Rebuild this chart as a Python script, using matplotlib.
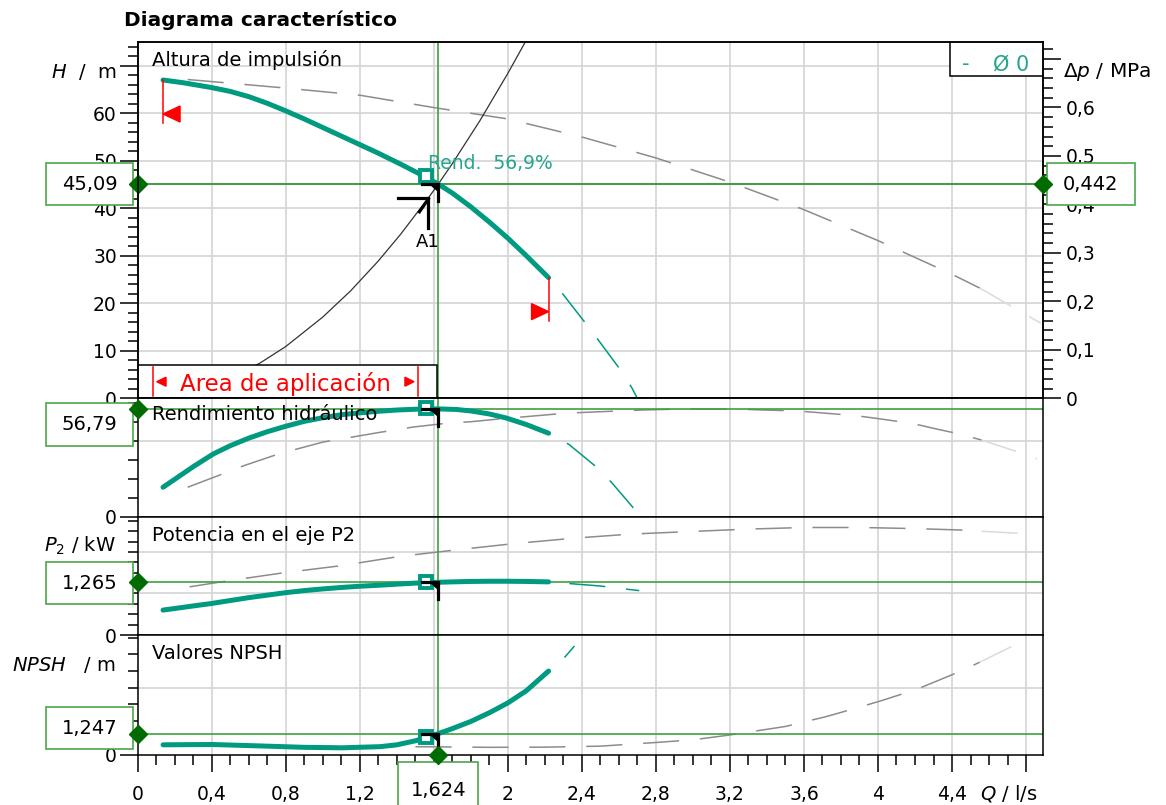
import numpy as np
import matplotlib
matplotlib.use("Agg")
import matplotlib.pyplot as plt
from matplotlib.patches import Rectangle, Polygon
from matplotlib.ticker import FixedLocator, MultipleLocator
import matplotlib.transforms as mtransforms

plt.rcParams['font.family'] = ['DejaVu Sans']
plt.rcParams['mathtext.fontset'] = 'dejavusans'
plt.rcParams['lines.scale_dashes'] = False

# ---------------- data ----------------
# pump head curve (operating range) and its continuation
q_head = [0.137, 0.25, 0.40, 0.50, 0.60, 0.70, 0.80, 0.90, 1.00, 1.10, 1.20, 1.30, 1.42,
          1.54, 1.624, 1.70, 1.80, 1.90, 2.00, 2.10, 2.22]
h_head = [67.0, 66.4, 65.4, 64.6, 63.5, 62.1, 60.5, 58.8, 57.0, 55.2, 53.4, 51.6, 49.3,
          46.9, 45.09, 43.2, 40.3, 37.1, 33.7, 30.0, 25.4]
q_head_ext = [2.22, 2.30, 2.42, 2.49, 2.61, 2.67, 2.70]
h_head_ext = [25.4, 21.8, 15.8, 12.2, 5.9, 2.2, 0.0]

# reference (max. diameter) head curve
q_head_ref = [0.27, 0.45, 0.80, 1.20, 1.60, 2.00, 2.40, 2.80, 3.20, 3.60, 4.00, 4.40, 4.55, 4.88]
h_head_ref = [67.1, 66.5, 65.3, 63.8, 61.2, 58.8, 55.0, 50.6, 45.5, 39.7, 33.2, 26.1, 23.2, 15.8]

# system curve
q_sys = [0.0, 0.30, 0.50, 0.66, 0.80, 1.00, 1.15, 1.30, 1.42, 1.571, 1.624, 1.70, 1.85, 2.00, 2.10]
h_sys = [0.0, 1.5, 4.3, 7.4, 10.9, 17.1, 22.6, 28.9, 34.5, 42.2, 45.09, 49.4, 58.5, 68.4, 75.4]

# hydraulic efficiency
q_eta = [0.137, 0.20, 0.30, 0.408, 0.50, 0.60, 0.70, 0.80, 0.90, 1.00, 1.10, 1.20, 1.31,
         1.40, 1.50, 1.62, 1.72, 1.80, 1.90, 1.99, 2.10, 2.22]
eta = [15.6, 19.8, 26.5, 33.2, 37.6, 41.6, 45.0, 47.9, 50.5, 52.4, 54.0, 55.0, 55.9,
       56.5, 56.9, 57.1, 56.8, 56.0, 54.4, 52.3, 48.8, 44.2]
q_eta_ext = [2.22, 2.33, 2.48, 2.56, 2.69, 2.72]
eta_ext = [44.2, 38.3, 26.2, 18.2, 3.3, 0.0]
q_eta_ref = [0.27, 0.455, 0.57, 0.76, 1.00, 1.31, 1.49, 1.68, 1.80, 1.99, 2.10, 2.31, 2.50,
             2.73, 2.93, 3.05, 3.24, 3.38, 3.56, 3.68, 3.88, 3.99, 4.19, 4.30, 4.44, 4.56,
             4.74, 4.86]
eta_ref = [15.6, 22.5, 26.9, 33.2, 39.5, 44.7, 47.5, 49.6, 50.3, 52.1, 53.0, 54.8, 55.6,
           56.5, 57.0, 57.0, 57.0, 56.5, 56.0, 55.1, 53.5, 52.1, 49.3, 46.8, 43.8, 40.6,
           34.8, 30.6]

# shaft power P2
q_pow = [0.137, 0.30, 0.40, 0.50, 0.60, 0.70, 0.80, 0.90, 1.00, 1.10, 1.20, 1.31, 1.40,
         1.50, 1.624, 1.70, 1.80, 1.90, 2.00, 2.10, 2.22]
p_pow = [0.60, 0.70, 0.76, 0.83, 0.90, 0.96, 1.02, 1.07, 1.11, 1.145, 1.175, 1.20, 1.225,
         1.25, 1.27, 1.28, 1.29, 1.295, 1.295, 1.29, 1.28]
q_pow_ext = [2.22, 2.50, 2.65, 2.71]
p_pow_ext = [1.28, 1.18, 1.10, 1.07]
q_pow_ref = [0.28, 0.48, 0.79, 1.10, 1.41, 1.72, 2.03, 2.35, 2.66, 2.97, 3.29, 3.60,
             3.91, 4.23, 4.44, 4.56, 4.76]
p_pow_ref = [1.16, 1.30, 1.50, 1.67, 1.89, 2.05, 2.20, 2.33, 2.43, 2.49, 2.55, 2.59,
             2.59, 2.56, 2.53, 2.50, 2.45]

# NPSH
q_npsh = [0.137, 0.40, 0.70, 0.90, 1.10, 1.31, 1.40, 1.50, 1.56, 1.624, 1.70, 1.80, 1.90,
          2.00, 2.10, 2.22]
npsh = [0.58, 0.60, 0.50, 0.43, 0.40, 0.47, 0.58, 0.82, 1.02, 1.25, 1.55, 1.98, 2.50,
        3.09, 3.82, 5.00]
q_npsh_ext = [2.22, 2.31, 2.36]
npsh_ext = [5.00, 5.86, 6.50]
q_npsh_ref = [0.27, 0.80, 1.20, 1.60, 1.90, 2.20, 2.50, 2.80, 3.00, 3.20, 3.50, 3.72,
              3.91, 4.02, 4.21, 4.32, 4.45, 4.55, 4.72]
npsh_ref = [0.56, 0.52, 0.48, 0.46, 0.43, 0.44, 0.50, 0.72, 0.88, 1.17, 1.68, 2.27,
            2.87, 3.23, 3.91, 4.41, 5.01, 5.53, 6.46]

# duty point
q_op = 1.624
h_op = 45.09
dp_op = 0.442
eta_op = 56.79
p_op = 1.265
npsh_op = 1.247
rend_pct = 56.9

# selected-curve point markers and system point A1
q_sel = 1.557
h_sel, eta_sel, p_sel, npsh_sel = 46.85, 57.3, 1.28, 1.06
q_a1, h_a1 = 1.571, 42.2

# axes scales and ticks
x_ticks = [0, 0.4, 0.8, 1.2, 1.6, 2.0, 2.4, 2.8, 3.2, 3.6, 4.0, 4.4, 4.8]
x_ticklabels = ['0', '0,4', '0,8', '1,2', '1,6', '2', '2,4', '2,8', '3,2', '3,6', '4', '4,4', '']
h_ticks = [0, 10, 20, 30, 40, 50, 60, 70]
h_ticklabels = ['0', '10', '20', '30', '40', '50', '60', '']
dp_ticks = [0, 0.1, 0.2, 0.3, 0.4, 0.5, 0.6, 0.7]
dp_ticklabels = ['0', '0,1', '0,2', '0,3', '0,4', '0,5', '0,6', '']
MPA_PER_M = 0.0098
X_MAX = 4.89
H_MAX, ETA_MAX, P_MAX, NPSH_MAX = 75.0, 62.7, 2.85, 7.16

# ---------------- style ----------------
TEAL = "#009a80"
TEAL_TXT = "#26a48d"
GRID = "#d4d4d4"
GRAY = "#8c8c8c"
GRAY_LT = "#dadada"
GREEN = "#1f8c1f"
GREEN_V = "#3f9f3f"
DIAM = "#006b00"
BOX_EDGE = "#4da64d"
RED = "#ff0000"
FS_TICK = 13.5
FS_TXT = 14
DASH = (26, 15)

DPI = 100
W, H = 1166, 805
fig = plt.figure(figsize=(W / DPI, H / DPI), dpi=DPI)


def fx(px):
    return px / W


def fy(py):
    return 1 - py / H


X0, X1 = 137.7, 1042.7
edges = [42.0, 398.3, 516.7, 635.0, 754.5]
axes = []
for i in range(4):
    top, bot = edges[i], edges[i + 1]
    axes.append(fig.add_axes([fx(X0), fy(bot), fx(X1) - fx(X0), (bot - top) / H]))
ax_h, ax_eta, ax_p, ax_n = axes


def px_trans(ax, x, y):
    return fig.dpi_scale_trans + mtransforms.ScaledTranslation(x, y, ax.transData)


def px_line(ax, x, y, xs, ys, **kw):
    ax.plot(np.asarray(xs) / DPI, np.asarray(ys) / DPI, transform=px_trans(ax, x, y),
            clip_on=False, **kw)


def px_poly(ax, x, y, verts, **kw):
    ax.add_patch(Polygon(np.asarray(verts, dtype=float) / DPI, closed=True,
                         transform=px_trans(ax, x, y), clip_on=False, **kw))


def draw_ref(ax, q, v, q_fade=4.5):
    q = np.asarray(q)
    v = np.asarray(v)
    k = int(np.searchsorted(q, q_fade))
    ax.plot(q[:k + 1], v[:k + 1], color=GRAY, lw=1.1, linestyle=(0, DASH), zorder=1.5)
    ax.plot(q[k:], v[k:], color=GRAY_LT, lw=1.1, linestyle=(0, DASH), zorder=1.5)


def draw_pump(ax, q, v, q_ext, v_ext):
    # continuation starts with a gap right after the end of the operating range
    ax.plot(q_ext, v_ext, color=TEAL, lw=1.1, linestyle=(DASH[0], DASH), zorder=3,
            dash_capstyle='butt')
    ax.plot(q, v, color=TEAL, lw=3.6, solid_capstyle='round', solid_joinstyle='round',
            zorder=3.2)


def corner(ax, x, y):
    px_line(ax, x, y, [-16, 0, 0], [0, 0, -17], color='black', lw=2.3,
            solid_joinstyle='miter', zorder=6)
    px_poly(ax, x, y, [(-8, 0), (0, 0), (0, -7)], color='black', zorder=6)


def style_axes(ax, ylim, grid_y):
    for g in x_ticks[1:]:
        ax.axvline(g, color=GRID, lw=1.2, zorder=0.5)
    for g in grid_y:
        ax.axhline(g, color=GRID, lw=1.2, zorder=0.5)
    ax.set_xlim(0, X_MAX)
    ax.set_ylim(*ylim)
    for s in ax.spines.values():
        s.set_linewidth(1.1)
        s.set_color('black')
    ax.tick_params(axis='y', which='major', direction='out', length=13, width=1.1,
                   labelsize=FS_TICK, pad=2)
    ax.tick_params(axis='y', which='minor', direction='out', length=7.5, width=1.1)
    ax.tick_params(axis='x', which='both', bottom=False, labelbottom=False)


def fmt(v, nd):
    return f'{v:.{nd}f}'.replace('.', ',')


# ---------------- panel 1 : head ----------------
draw_ref(ax_h, q_head_ref, h_head_ref)
ax_h.plot(q_sys, h_sys, color='#333333', lw=0.9, zorder=2)
ax_h.axhline(h_op, color=GREEN, lw=1.2, zorder=2.2)
draw_pump(ax_h, q_head, h_head, q_head_ext, h_head_ext)
ax_h.plot([q_sel], [h_sel], marker='s', ms=8.5, mew=2.8, mfc='white', mec=TEAL, zorder=5)
corner(ax_h, q_op, h_op)

# system point A1
px_line(ax_h, q_a1, h_a1, [-30, 0, 0], [0, 0, -30], color='black', lw=2.3,
        solid_joinstyle='miter', zorder=6)
px_line(ax_h, q_a1, h_a1, [0, -9], [-1, -14], color='black', lw=2.3, zorder=6)
ax_h.annotate('A1', (q_a1, h_a1), xytext=(-1, -44), textcoords='offset pixels',
              ha='center', va='center', fontsize=13, color='black', zorder=6)
ax_h.annotate(f'Rend.  {fmt(rend_pct, 1)}%', (q_op, h_op), xytext=(-10, 21),
              textcoords='offset pixels', ha='left', va='center', fontsize=13.5,
              color=TEAL_TXT, zorder=6)

# application range limits on the head curve
px_line(ax_h, q_head[0], h_head[0], [0, 0], [0, -43], color=RED, lw=1.1, zorder=5)
px_poly(ax_h, q_head[0], h_head[0], [(0, -34), (17, -26), (17, -42)], color=RED, zorder=5)
px_line(ax_h, q_head[-1], h_head[-1], [0, 0], [0, -43], color=RED, lw=1.1, zorder=5)
px_poly(ax_h, q_head[-1], h_head[-1], [(0, -34), (-17, -26), (-17, -42)], color=RED, zorder=5)

# "Area de aplicación" box
ax_h.add_patch(Rectangle((0, 0), 0.3307, 0.0935, transform=ax_h.transAxes,
                         facecolor='white', edgecolor='black', lw=1.1, zorder=4))
for xl in (0.0166, 0.3100):
    ax_h.plot([xl, xl], [0.006, 0.088], transform=ax_h.transAxes, color=RED, lw=1.1, zorder=4.5)
ax_h.add_patch(Polygon([(0.0210, 0.0466), (0.0313, 0.0591), (0.0313, 0.0341)], closed=True,
                       transform=ax_h.transAxes, color=RED, zorder=4.5))
ax_h.add_patch(Polygon([(0.3053, 0.0466), (0.2953, 0.0591), (0.2953, 0.0341)], closed=True,
                       transform=ax_h.transAxes, color=RED, zorder=4.5))
ax_h.text(0.1636, 0.0205, 'Area de aplicación', transform=ax_h.transAxes, ha='center',
          va='baseline', fontsize=16.5, color=RED, zorder=4.5)

# diameter legend box
ax_h.add_patch(Rectangle((0.8976, 0.9037), 0.1024, 0.0963, transform=ax_h.transAxes,
                         facecolor='white', edgecolor='black', lw=1.1, zorder=5))
ax_h.text(0.9105, 0.921, '-', transform=ax_h.transAxes, ha='left', va='baseline',
          fontsize=15, color=TEAL_TXT, zorder=5.5)
ax_h.text(0.9450, 0.921, 'Ø 0', transform=ax_h.transAxes, ha='left', va='baseline',
          fontsize=15, color=TEAL_TXT, zorder=5.5)

ax_h.text(0.0158, 0.9495, 'Altura de impulsión', transform=ax_h.transAxes, ha='left',
          va='center', fontsize=FS_TXT, zorder=5)

style_axes(ax_h, (0, H_MAX), h_ticks[1:])
ax_h.yaxis.set_major_locator(FixedLocator(h_ticks))
ax_h.set_yticklabels(h_ticklabels)
ax_h.yaxis.set_minor_locator(MultipleLocator(2))

# pressure axis on the right
ax_dp = ax_h.twinx()
ax_dp.set_ylim(0, H_MAX * MPA_PER_M)
ax_dp.yaxis.set_major_locator(FixedLocator(dp_ticks))
ax_dp.set_yticklabels(dp_ticklabels)
ax_dp.yaxis.set_minor_locator(MultipleLocator(0.02))
ax_dp.tick_params(axis='y', which='major', direction='out', length=13, width=1.1,
                  labelsize=FS_TICK, pad=3.5)
ax_dp.tick_params(axis='y', which='minor', direction='out', length=7.5, width=1.1)
ax_dp.tick_params(axis='x', which='both', bottom=False, labelbottom=False)
for s in ax_dp.spines.values():
    s.set_linewidth(1.1)

# ---------------- panel 2 : efficiency ----------------
draw_ref(ax_eta, q_eta_ref, eta_ref)
ax_eta.axhline(eta_op, color=GREEN_V, lw=1.2, zorder=2.2)
draw_pump(ax_eta, q_eta, eta, q_eta_ext, eta_ext)
ax_eta.plot([q_sel], [eta_sel], marker='s', ms=8.5, mew=2.8, mfc='white', mec=TEAL, zorder=5)
corner(ax_eta, q_op, eta_op)
ax_eta.text(0.0158, 0.859, 'Rendimiento hidráulico', transform=ax_eta.transAxes,
            ha='left', va='center', fontsize=FS_TXT, zorder=5)
style_axes(ax_eta, (0, ETA_MAX), [40])
ax_eta.yaxis.set_major_locator(FixedLocator([0]))
ax_eta.set_yticklabels(['0'])
ax_eta.yaxis.set_minor_locator(MultipleLocator(10))

# ---------------- panel 3 : shaft power ----------------
draw_ref(ax_p, q_pow_ref, p_pow_ref)
ax_p.axhline(p_op, color=GREEN_V, lw=1.2, zorder=2.2)
draw_pump(ax_p, q_pow, p_pow, q_pow_ext, p_pow_ext)
ax_p.plot([q_sel], [p_sel], marker='s', ms=8.5, mew=2.8, mfc='white', mec=TEAL, zorder=5)
corner(ax_p, q_op, p_op)
ax_p.text(0.0158, 0.845, 'Potencia en el eje P2', transform=ax_p.transAxes,
          ha='left', va='center', fontsize=FS_TXT, zorder=5)
style_axes(ax_p, (0, P_MAX), [1, 2])
ax_p.yaxis.set_major_locator(FixedLocator([0]))
ax_p.set_yticklabels(['0'])
ax_p.yaxis.set_minor_locator(MultipleLocator(0.25))

# ---------------- panel 4 : NPSH ----------------
draw_ref(ax_n, q_npsh_ref, npsh_ref)
ax_n.axhline(npsh_op, color=GREEN_V, lw=1.2, zorder=2.2)
draw_pump(ax_n, q_npsh, npsh, q_npsh_ext, npsh_ext)
ax_n.plot([q_sel], [npsh_sel], marker='s', ms=8.5, mew=2.8, mfc='white', mec=TEAL, zorder=5)
corner(ax_n, q_op, npsh_op)
ax_n.text(0.0158, 0.849, 'Valores NPSH', transform=ax_n.transAxes,
          ha='left', va='center', fontsize=FS_TXT, zorder=5)
style_axes(ax_n, (0, NPSH_MAX), [4])
ax_n.yaxis.set_major_locator(FixedLocator([0]))
ax_n.set_yticklabels(['0'])
ax_n.yaxis.set_minor_locator(MultipleLocator(1))
ax_n.tick_params(axis='x', which='both', bottom=True, labelbottom=True, direction='out')
ax_n.xaxis.set_major_locator(FixedLocator(x_ticks))
ax_n.set_xticklabels(x_ticklabels)
ax_n.xaxis.set_minor_locator(MultipleLocator(0.1))
ax_n.tick_params(axis='x', which='major', length=12.5, width=1.1, labelsize=FS_TICK, pad=9.5)
ax_n.tick_params(axis='x', which='minor', length=7.5, width=1.1)

# duty point vertical line through all panels
for ax in axes:
    ax.axvline(q_op, color=GREEN_V, lw=1.2, zorder=2.3)


# ---------------- value boxes ----------------
def value_box(ax, text, cx, cy, w=87.6, h=42.3):
    ax.add_patch(Rectangle((fx(cx - w / 2), fy(cy + h / 2)), w / W, h / H,
                           transform=fig.transFigure, facecolor='white',
                           edgecolor=BOX_EDGE, lw=1.2, clip_on=False, zorder=8))
    ax.text(fx(cx), fy(cy), text, transform=fig.transFigure, ha='center', va='center',
            fontsize=FS_TXT, clip_on=False, zorder=9)


value_box(ax_h, fmt(h_op, 2), 89.5, 184)
value_box(ax_eta, fmt(eta_op, 2), 89.5, 424.5)
value_box(ax_p, fmt(p_op, 3), 89.5, 583)
value_box(ax_n, fmt(npsh_op, 3), 89.5, 728)
value_box(ax_dp, fmt(dp_op, 3), 1090.8, 184.2)
value_box(ax_n, fmt(q_op, 3), 438.3, 790, w=80, h=56)

dkw = dict(marker='D', ms=9, color=DIAM, clip_on=False, zorder=10, ls='none')
ax_h.plot([0], [h_op], **dkw)
ax_eta.plot([0], [eta_op], **dkw)
ax_p.plot([0], [p_op], **dkw)
ax_n.plot([0], [npsh_op], **dkw)
ax_dp.plot([X_MAX], [dp_op], **dkw)
ax_n.plot([q_op], [0], **dkw)

# ---------------- labels ----------------
fig.text(fx(124), fy(20), 'Diagrama característico', fontsize=14.5, fontweight='bold',
         ha='left', va='center')
fig.text(fx(116), fy(72), r'$H$  /  m', fontsize=FS_TXT, ha='right', va='center')
fig.text(fx(1063), fy(72), r'$\Delta p$ / MPa', fontsize=14.5, ha='left', va='center')
fig.text(fx(116), fy(546), r'$P_2$ / kW', fontsize=FS_TXT, ha='right', va='center')
fig.text(fx(116), fy(665), r'$NPSH$   / m', fontsize=FS_TXT, ha='right', va='center')
fig.text(fx(1009), fy(793), r'$Q$ / l/s', fontsize=FS_TXT, ha='center', va='center')

fig.savefig('out.png', dpi=DPI, facecolor='white')
